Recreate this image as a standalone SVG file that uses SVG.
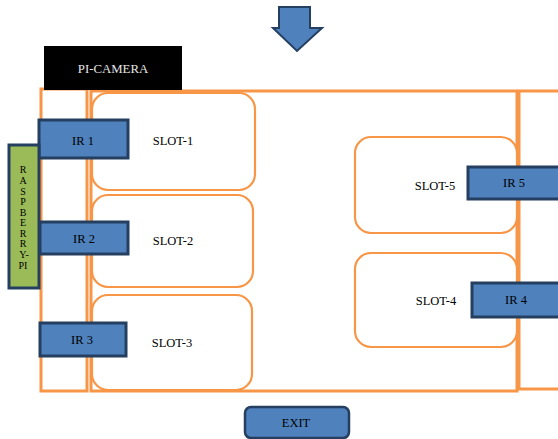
<svg xmlns="http://www.w3.org/2000/svg" width="558" height="439" viewBox="0 0 558 439">
<style>
.wall{fill:none;stroke:#F79646;stroke-width:3}
.slot{fill:#fff;stroke:#F79646;stroke-width:2.2}
.ir{fill:#4F81BD;stroke:#243F60;stroke-width:3}
.t{font-family:"Liberation Serif",serif;font-size:12.5px;fill:#000;text-anchor:middle;dominant-baseline:central}
</style>
<rect width="558" height="439" fill="#fff"/>
<g id="walls">
<rect class="wall" x="41" y="89" width="46" height="302"/>
<rect class="wall" x="91" y="91" width="426" height="300"/>
<rect class="wall" x="519" y="91" width="50" height="298"/>
</g>
<g id="entry-arrow">
<path d="M279,7 H310 V28 H322 L297,51 L273,28 H279 Z" fill="#4F81BD" stroke="#243F60" stroke-width="2"/>
</g>
<g id="pi-camera">
<rect x="44" y="46" width="138" height="44" fill="#000"/>
<text class="t" x="113" y="69" style="fill:#e6e6e6;font-size:12.8px">PI-CAMERA</text>
</g>
<g id="slot-1"><rect class="slot" x="92" y="93" width="163" height="97" rx="16"/><text class="t" x="173" y="141">SLOT-1</text></g>
<g id="slot-2"><rect class="slot" x="92" y="195" width="161" height="92" rx="16"/><text class="t" x="173" y="241">SLOT-2</text></g>
<g id="slot-3"><rect class="slot" x="92" y="295" width="160" height="95" rx="16"/><text class="t" x="172" y="343">SLOT-3</text></g>
<g id="slot-5"><rect class="slot" x="355" y="137" width="162" height="96" rx="16"/><text class="t" x="435" y="186">SLOT-5</text></g>
<g id="slot-4"><rect class="slot" x="355" y="253" width="162" height="94" rx="16"/><text class="t" x="436" y="301">SLOT-4</text></g>
<g id="ir-1"><rect class="ir" x="39" y="120" width="89" height="38"/><text class="t" x="83" y="141">IR 1</text></g>
<g id="ir-2"><rect class="ir" x="40" y="222" width="88" height="32"/><text class="t" x="84" y="239">IR 2</text></g>
<g id="ir-3"><rect class="ir" x="40" y="323" width="86" height="33"/><text class="t" x="82" y="340">IR 3</text></g>
<g id="ir-5"><rect class="ir" x="468" y="167" width="100" height="32"/><text class="t" x="514" y="183">IR 5</text></g>
<g id="ir-4"><rect class="ir" x="472" y="283" width="96" height="34"/><text class="t" x="516" y="300">IR 4</text></g>
<g id="raspberry-pi">
<rect x="9" y="145" width="30" height="143" fill="#9BBB59" stroke="#243F60" stroke-width="3"/>
<g class="t" style="font-size:10px">
<text class="t" style="font-size:10px" x="23" y="169">R</text>
<text class="t" style="font-size:10px" x="23" y="180">A</text>
<text class="t" style="font-size:10px" x="23" y="191">S</text>
<text class="t" style="font-size:10px" x="23" y="201">P</text>
<text class="t" style="font-size:10px" x="23" y="212">B</text>
<text class="t" style="font-size:10px" x="23" y="222">E</text>
<text class="t" style="font-size:10px" x="23" y="233">R</text>
<text class="t" style="font-size:10px" x="23" y="243">R</text>
<text class="t" style="font-size:10px" x="24" y="254">Y-</text>
<text class="t" style="font-size:10px" x="23" y="265">PI</text>
</g>
</g>
<g id="exit"><rect x="245" y="407" width="104" height="31" rx="6" fill="#4F81BD" stroke="#243F60" stroke-width="2.5"/><text class="t" x="296" y="423">EXIT</text></g>
</svg>
